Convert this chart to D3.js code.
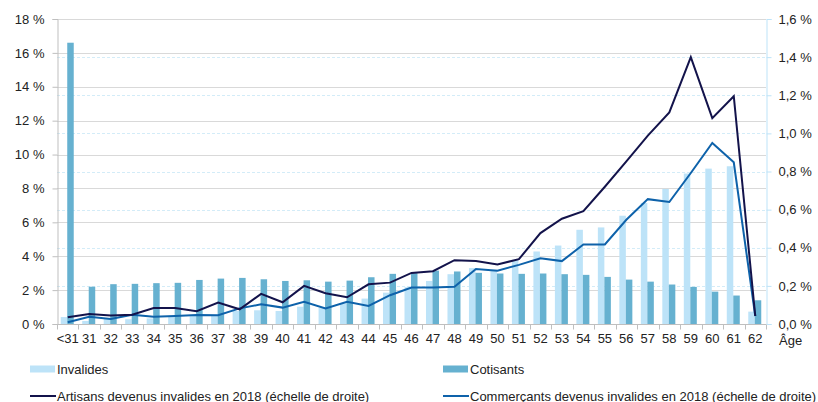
<!DOCTYPE html>
<html>
<head>
<meta charset="utf-8">
<script src="https://cdn.jsdelivr.net/npm/d3@7"></script>
<style>
  body { margin: 0; background: #fff; }
  text { font-family: "Liberation Sans", Arial, sans-serif; fill: #222; }
</style>
</head>
<body>
<svg width="818" height="402"></svg>
<script>
var ages = ["<31","31","32","33","34","35","36","37","38","39","40","41","42","43","44","45","46","47",
            "48","49","50","51","52","53","54","55","56","57","58","59","60","61","62"];

var invalides = [0.41,0.18,0.3,0.28,0.33,0.43,0.53,0.47,0.77,0.81,0.77,1.02,0.97,1.22,1.5,1.85,2.17,2.54,
                 2.94,3.3,3.2,3.79,4.28,4.63,5.56,5.7,6.39,7.14,7.97,8.88,9.17,9.31,0.73];

var cotisants = [16.6,2.2,2.35,2.37,2.41,2.43,2.6,2.68,2.72,2.64,2.54,2.58,2.5,2.56,2.76,2.96,3.0,3.15,
                 3.1,3.02,2.98,2.96,2.98,2.94,2.9,2.78,2.62,2.5,2.33,2.19,1.91,1.68,1.4];

var artisans = [0.035,0.053,0.044,0.049,0.084,0.084,0.067,0.112,0.077,0.158,0.114,0.2,0.161,0.14,0.208,0.217,0.268,0.277,
                0.335,0.331,0.312,0.34,0.477,0.552,0.592,0.72,0.853,0.988,1.11,1.4,1.08,1.195,0.042];

var commercants = [0.009,0.038,0.026,0.049,0.038,0.042,0.047,0.046,0.082,0.103,0.086,0.117,0.081,0.117,0.095,0.151,0.191,0.191,
                   0.195,0.289,0.28,0.31,0.345,0.33,0.417,0.417,0.547,0.655,0.64,0.792,0.95,0.848,0.042];

var leftTicks = [0,2,4,6,8,10,12,14,16,18];
var rightTicks = [0,0.2,0.4,0.6,0.8,1.0,1.2,1.4,1.6];

var svg = d3.select("svg");
var margin = {top: 19, left: 57, right: 766, bottom: 324};

var x = d3.scaleBand().domain(ages).range([margin.left, margin.right]);
var yL = d3.scaleLinear().domain([0, 18]).range([margin.bottom, margin.top]);
var yR = d3.scaleLinear().domain([0, 1.6]).range([margin.bottom, margin.top]);

var fmtL = function(d){ return d + " %"; };
var fmtR = function(d){ return d3.format(".1f")(d).replace(".", ",") + " %"; };

// right-scale gridlines (dashed light blue)
svg.append("g").selectAll("line")
    .data(rightTicks.slice(1))
    .enter().append("line")
    .attr("x1", margin.left).attr("x2", margin.right)
    .attr("y1", function(d){ return Math.round(yR(d)) + 0.5; })
    .attr("y2", function(d){ return Math.round(yR(d)) + 0.5; })
    .attr("stroke", "#d3ecf8").attr("stroke-dasharray", "3,2");

// left-scale gridlines (solid grey)
svg.append("g").selectAll("line")
    .data(leftTicks.slice(1))
    .enter().append("line")
    .attr("x1", margin.left).attr("x2", margin.right)
    .attr("y1", function(d){ return Math.round(yL(d)) + 0.5; })
    .attr("y2", function(d){ return Math.round(yL(d)) + 0.5; })
    .attr("stroke", "#d9d9d9");

// bars
var bw = 6.5;
svg.append("g").selectAll("rect")
    .data(invalides)
    .enter().append("rect")
    .attr("x", function(d, i){ return x(ages[i]) + x.bandwidth()/2 - bw - 0.5; })
    .attr("width", bw)
    .attr("y", function(d){ return yL(d); })
    .attr("height", function(d){ return yL(0) - yL(d); })
    .attr("fill", "#bde3f8");

svg.append("g").selectAll("rect")
    .data(cotisants)
    .enter().append("rect")
    .attr("x", function(d, i){ return x(ages[i]) + x.bandwidth()/2 - 0.5; })
    .attr("width", bw)
    .attr("y", function(d){ return yL(d); })
    .attr("height", function(d){ return yL(0) - yL(d); })
    .attr("fill", "#66b1d0");

// axes
var axisL = svg.append("g")
    .attr("transform", "translate(" + (margin.left + 0.5) + ",0)")
    .call(d3.axisLeft(yL).tickValues(leftTicks).tickFormat(fmtL).tickSize(5).tickPadding(8));
axisL.select(".domain").attr("stroke", "#bfbfbf");
axisL.selectAll(".tick line").attr("stroke", "#bfbfbf");
axisL.selectAll("text").style("font-size", "13px");

var axisR = svg.append("g")
    .attr("transform", "translate(" + (margin.right + 0.5) + ",0)")
    .call(d3.axisRight(yR).tickValues(rightTicks).tickFormat(fmtR).tickSize(5).tickPadding(7));
axisR.select(".domain").attr("stroke", "#bde3f8");
axisR.selectAll(".tick line").attr("stroke", "#bde3f8");
axisR.selectAll("text").style("font-size", "13px");

var axisX = svg.append("g")
    .attr("transform", "translate(0," + (margin.bottom + 0.5) + ")");
axisX.append("line")
    .attr("x1", margin.left).attr("x2", margin.right)
    .attr("stroke", "#bfbfbf");
axisX.selectAll("line.tk")
    .data(ages.concat(["end"]))
    .enter().append("line")
    .attr("class", "tk")
    .attr("x1", function(d, i){ return Math.round(margin.left + i * x.step()) + 0.5; })
    .attr("x2", function(d, i){ return Math.round(margin.left + i * x.step()) + 0.5; })
    .attr("y1", 0).attr("y2", 5)
    .attr("stroke", "#bfbfbf");
axisX.selectAll("text")
    .data(ages)
    .enter().append("text")
    .attr("x", function(d){ return x(d) + x.bandwidth()/2; })
    .attr("y", 18)
    .attr("text-anchor", "middle")
    .style("font-size", "13px")
    .text(function(d){ return d; });

svg.append("text")
    .attr("x", 779).attr("y", 345)
    .style("font-size", "13px")
    .text("Âge");

// lines
var line = d3.line()
    .x(function(d, i){ return x(ages[i]) + x.bandwidth()/2; })
    .y(function(d){ return yR(d); });

svg.append("path")
    .datum(commercants)
    .attr("d", line)
    .attr("fill", "none")
    .attr("stroke", "#0e62aa")
    .attr("stroke-width", 2);

svg.append("path")
    .datum(artisans)
    .attr("d", line)
    .attr("fill", "none")
    .attr("stroke", "#13134b")
    .attr("stroke-width", 2);

// legend
var legend = [
    {name: "Invalides", type: "rect", color: "#bde3f8", x: 30, y: 369},
    {name: "Cotisants", type: "rect", color: "#66b1d0", x: 443, y: 369},
    {name: "Artisans devenus invalides en 2018 (échelle de droite)", type: "line", color: "#13134b", x: 30, y: 396},
    {name: "Commerçants devenus invalides en 2018 (échelle de droite)", type: "line", color: "#0e62aa", x: 443, y: 396}
];

var lg = svg.append("g").selectAll("g")
    .data(legend)
    .enter().append("g")
    .attr("transform", function(d){ return "translate(" + d.x + "," + d.y + ")"; });

lg.filter(function(d){ return d.type == "rect"; })
    .append("rect")
    .attr("x", 0).attr("y", -3.5).attr("width", 25).attr("height", 7)
    .attr("fill", function(d){ return d.color; });

lg.filter(function(d){ return d.type == "line"; })
    .append("line")
    .attr("x1", 0).attr("x2", 26).attr("y1", 0).attr("y2", 0)
    .attr("stroke", function(d){ return d.color; })
    .attr("stroke-width", 2);

lg.append("text")
    .attr("x", 27).attr("y", 4.5)
    .style("font-size", "13px")
    .text(function(d){ return d.name; });
</script>
</body>
</html>
